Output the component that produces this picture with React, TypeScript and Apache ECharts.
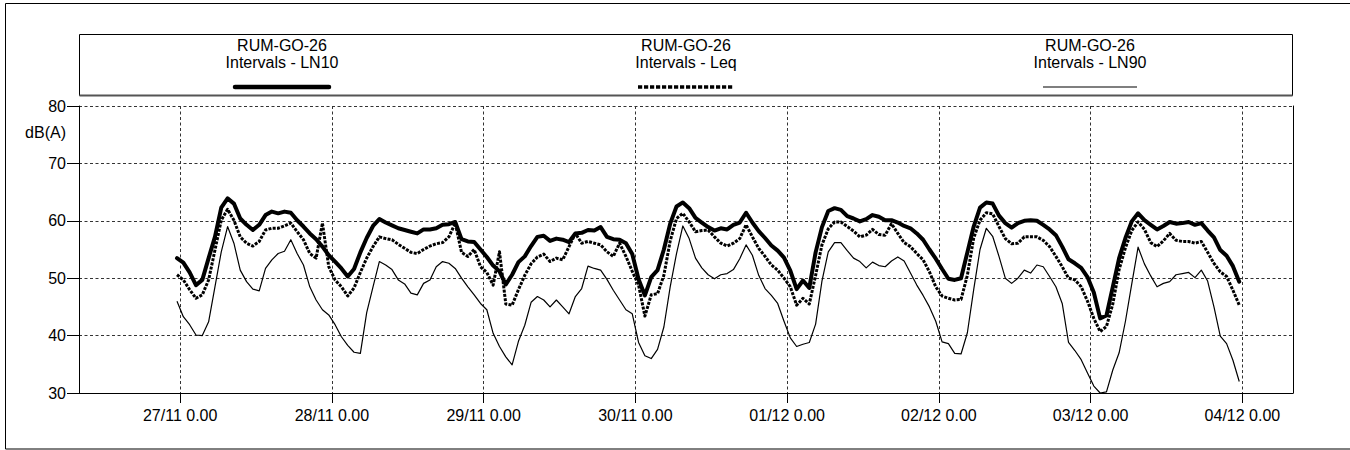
import React, { useEffect, useRef } from "react";
import * as echarts from "echarts";

// Station and series names
const SITE = "RUM-GO-26";
const SERIES_NAMES = ["Intervals - LN10", "Intervals - Leq", "Intervals - LN90"];

// Day tick labels (midnight of each day)
const DAY_LABELS = [
  "27/11 0.00",
  "28/11 0.00",
  "29/11 0.00",
  "30/11 0.00",
  "01/12 0.00",
  "02/12 0.00",
  "03/12 0.00",
  "04/12 0.00",
];

// Time axis in hours relative to 27/11 0.00
const AXIS_START_HOUR = -16;
const AXIS_END_HOUR = 176;
const AXIS_STEP_HOURS = 8;

// Hourly readings, first one at 26/11 23.30
const FIRST_READING_HOUR = -0.5;
const READING_STEP_HOURS = 1;

// Level axis, dB(A)
const Y_MIN = 30;
const Y_MAX = 80;
const Y_STEP = 10;

const LN10 = [
  53.5, 52.7, 51.0, 48.8, 49.7, 53.5, 57.2, 62.3, 63.9, 63.0,
  60.4, 59.3, 58.4, 59.3, 61.0, 61.6, 61.3, 61.6, 61.4, 60.1,
  59.0, 57.8, 56.8, 55.5, 54.0, 52.9, 51.7, 50.3, 51.6, 54.5,
  57.0, 59.1, 60.3, 59.7, 59.2, 58.7, 58.4, 58.1, 57.8, 58.5,
  58.5, 58.7, 59.3, 59.4, 59.8, 56.8, 56.4, 56.3, 55.0, 53.7,
  52.2, 51.2, 48.9, 50.6, 52.8, 53.8, 55.6, 57.2, 57.4, 56.5,
  56.9, 56.7, 56.3, 57.8, 57.9, 58.4, 58.3, 58.9, 57.2, 56.8,
  56.7, 56.1, 54.2, 49.8, 47.0, 50.2, 51.4, 55.0, 59.5, 62.5,
  63.2, 62.2, 60.5, 59.7, 58.9, 58.3, 58.7, 58.5, 59.3, 59.7,
  61.4, 59.7, 58.2, 57.0, 55.7, 54.8, 53.6, 51.3, 48.1, 49.6,
  48.3, 54.5, 58.9, 61.7, 62.2, 61.9, 60.8, 60.4, 59.9, 60.3,
  61.0, 60.7, 60.1, 60.1, 59.7, 59.1, 58.7, 57.8, 56.7, 55.0,
  53.4, 51.6, 49.9, 49.7, 50.0, 54.5, 59.0, 62.3, 63.2, 63.0,
  60.9, 59.6, 58.8, 59.6, 60.0, 60.1, 60.0, 59.3, 58.5, 57.5,
  55.5, 53.3, 52.6, 51.8, 50.2, 47.5, 43.0, 43.5, 48.5, 53.5,
  57.0, 59.9, 61.3, 60.1, 59.3, 58.5, 59.1, 59.8, 59.5, 59.6,
  59.8, 59.3, 59.6, 58.3, 57.1, 54.9, 53.9, 52.1, 49.4,
];

const LEQ = [
  50.6, 49.7, 48.0, 46.5, 47.1, 49.7, 54.9, 60.1, 62.0, 60.1,
  57.2, 56.1, 55.6, 56.4, 58.4, 58.7, 58.7, 59.1, 59.6, 58.1,
  56.7, 54.3, 53.5, 59.6, 52.0, 49.7, 48.5, 46.9, 48.3, 51.0,
  53.5, 55.5, 57.2, 56.9, 56.7, 55.9, 55.2, 54.5, 54.3, 55.0,
  55.6, 56.0, 56.2, 57.2, 59.6, 54.5, 53.8, 55.0, 52.0, 51.0,
  48.8, 54.6, 45.5, 45.3, 48.0, 50.5, 52.5, 53.7, 54.2, 52.9,
  53.5, 53.2, 55.5, 57.8, 56.1, 56.4, 56.1, 55.8, 54.6, 53.8,
  56.1, 53.8, 51.2, 48.8, 43.4, 47.1, 47.3, 50.5, 56.5, 60.4,
  61.3, 59.8, 58.1, 58.3, 58.4, 57.2, 56.1, 55.6, 56.1, 56.9,
  59.3, 57.2, 55.2, 53.8, 52.3, 51.4, 50.0, 48.5, 45.3, 46.5,
  45.5, 50.5, 55.8, 58.6, 59.8, 59.8, 59.0, 58.2, 57.2, 57.5,
  58.5, 57.6, 57.5, 59.5, 57.8, 56.2, 55.5, 54.3, 53.2, 51.1,
  48.5, 46.9, 46.5, 46.2, 46.3, 50.5, 57.0, 60.1, 61.4, 61.2,
  59.0, 56.9, 56.0, 56.1, 57.2, 57.2, 57.2, 56.6, 55.5, 53.8,
  52.0, 50.0, 49.7, 48.5, 46.0, 43.0, 40.7, 41.6, 45.5, 51.5,
  55.3, 58.3, 59.8, 58.5, 56.2, 55.5, 56.5, 57.8, 56.6, 56.4,
  56.4, 56.1, 56.4, 54.5, 52.6, 51.1, 50.3, 47.9, 45.3,
];

const LN90 = [
  46.0, 43.3, 41.9, 40.1, 40.0, 42.4, 48.5, 54.6, 59.0, 56.1,
  51.4, 49.4, 48.1, 47.8, 51.7, 53.2, 54.3, 54.7, 56.7, 54.3,
  52.3, 48.5, 46.2, 44.5, 43.6, 41.9, 39.8, 38.3, 37.1, 36.9,
  44.0, 48.5, 52.9, 52.3, 51.5, 49.7, 49.0, 47.4, 47.1, 49.1,
  49.7, 52.0, 52.9, 52.6, 51.7, 50.0, 48.5, 47.1, 45.6, 44.5,
  40.4, 38.1, 36.3, 34.9, 39.0, 41.8, 45.8, 46.8, 46.2, 45.0,
  46.2, 45.0, 43.8, 46.8, 48.2, 52.1, 51.7, 51.4, 49.8, 47.9,
  46.2, 44.5, 43.8, 38.8, 36.5, 36.0, 37.6, 41.5, 48.5, 54.3,
  59.1, 56.9, 53.5, 51.8, 50.6, 49.9, 50.6, 50.8, 51.5, 53.4,
  55.8, 54.0, 50.5, 48.2, 47.0, 45.6, 42.5, 39.6, 38.1, 38.5,
  38.8, 42.0, 49.5, 54.6, 56.2, 56.2, 54.8, 53.5, 52.9, 51.8,
  52.8, 52.2, 52.0, 53.0, 53.7, 53.0, 50.9, 48.8, 47.0, 45.0,
  42.5, 38.9, 38.6, 36.9, 36.8, 40.5, 48.0, 55.0, 58.7, 57.3,
  53.8, 50.0, 49.1, 50.0, 51.4, 50.9, 52.3, 52.0, 50.3, 48.5,
  45.6, 38.8, 37.4, 35.8, 33.5, 31.2, 30.0, 30.2, 34.0, 37.0,
  42.5, 49.0, 55.4, 52.5, 50.4, 48.5, 49.1, 49.4, 50.6, 50.8,
  51.0, 50.1, 51.4, 49.5, 45.0, 39.9, 38.6, 35.7, 32.0,
];

const FONT = '"Liberation Sans", Arial, Helvetica, sans-serif';
const INK = "#000";

const toPoints = (values: number[]) =>
  values.map((v, i) => [FIRST_READING_HOUR + i * READING_STEP_HOURS, v]);

// Category positions every 8 hours; only midnights carry a label
const hourMarks: number[] = [];
for (let h = AXIS_START_HOUR; h <= AXIS_END_HOUR; h += AXIS_STEP_HOURS) hourMarks.push(h);
const categories = hourMarks.map((h) =>
  h >= 0 && h % 24 === 0 && h / 24 < DAY_LABELS.length ? DAY_LABELS[h / 24] : ""
);
const isDayMark = (_index: number, value: string) => value !== "";

function legendItem(cx: number, name: string, sample: any) {
  const text = (t: string, y: number) => ({
    type: "text",
    silent: true,
    style: {
      text: t,
      x: cx,
      y,
      fill: INK,
      fontFamily: FONT,
      fontSize: 16,
      align: "center",
      textAlign: "center",
      verticalAlign: "middle",
      textVerticalAlign: "middle",
    },
  });
  return [text(SITE, 45), text(name, 62.5), sample];
}

export default function App() {
  const ref = useRef<HTMLDivElement>(null);

  useEffect(() => {
    if (!ref.current) return;
    const chart = echarts.init(ref.current, undefined, { renderer: "svg" });

    const lineY = 87;
    const graphic: any[] = [
      // outer frame
      {
        type: "rect",
        silent: true,
        shape: { x: 5.5, y: 3.5, width: 1350, height: 445.5 },
        style: { fill: "none", stroke: INK, lineWidth: 1 },
      },
      // legend box
      {
        type: "rect",
        silent: true,
        shape: { x: 79.5, y: 34.5, width: 1213, height: 61 },
        style: { fill: "none", stroke: INK, lineWidth: 1 },
      },
      {
        type: "line",
        silent: true,
        shape: { x1: 79.5, y1: 95.5, x2: 1292.5, y2: 95.5 },
        style: { stroke: "#555", lineWidth: 2 },
      },
      ...legendItem(282, SERIES_NAMES[0], {
        type: "line",
        silent: true,
        shape: { x1: 235, y1: lineY, x2: 329, y2: lineY },
        style: { stroke: INK, lineWidth: 4.5, lineCap: "round" },
      }),
      ...legendItem(686, SERIES_NAMES[1], {
        type: "line",
        silent: true,
        shape: { x1: 638, y1: lineY, x2: 734, y2: lineY },
        style: { stroke: INK, lineWidth: 3.5, lineDash: [4.2, 1.8] },
      }),
      ...legendItem(1090, SERIES_NAMES[2], {
        type: "line",
        silent: true,
        shape: { x1: 1043, y1: lineY, x2: 1137, y2: lineY },
        style: { stroke: INK, lineWidth: 1.2 },
      }),
      // unit label
      {
        type: "text",
        silent: true,
        style: {
          text: "dB(A)",
          x: 66,
          y: 132,
          fill: INK,
          fontFamily: FONT,
          fontSize: 16,
          align: "right",
          textAlign: "right",
          verticalAlign: "middle",
          textVerticalAlign: "middle",
        },
      },
    ];

    const splitStyle = { color: "#333", width: 1, type: [3, 2.5] as any };

    chart.setOption({
      animation: false,
      backgroundColor: "#fff",
      grid: { left: 79, right: 57, top: 106, bottom: 57, outerBoundsMode: "none" } as any,
      xAxis: [
        {
          type: "value",
          min: AXIS_START_HOUR,
          max: AXIS_END_HOUR,
          show: false,
          axisLine: { onZero: false },
        },
        {
          type: "category",
          position: "bottom",
          boundaryGap: false,
          data: categories,
          axisLine: { show: true, onZero: false, lineStyle: { color: INK, width: 1 } },
          axisTick: {
            show: true,
            interval: isDayMark,
            length: 10,
            lineStyle: { color: INK, width: 1 },
          },
          axisLabel: {
            show: true,
            interval: isDayMark,
            margin: 14,
            color: INK,
            fontFamily: FONT,
            fontSize: 16,
          },
          splitLine: { show: true, interval: isDayMark, lineStyle: splitStyle },
        },
      ],
      yAxis: [
        {
          type: "value",
          min: Y_MIN,
          max: Y_MAX,
          interval: Y_STEP,
          axisLine: { show: true, onZero: false, lineStyle: { color: INK, width: 1 } },
          axisTick: { show: true, length: 12, lineStyle: { color: INK, width: 1 } },
          axisLabel: { margin: 13, color: INK, fontFamily: FONT, fontSize: 16 },
          splitLine: { show: true, lineStyle: splitStyle },
        },
        {
          type: "value",
          position: "right",
          min: Y_MIN,
          max: Y_MAX,
          interval: Y_STEP,
          axisLine: { show: true, onZero: false, lineStyle: { color: INK, width: 1 } },
          axisTick: { show: false },
          axisLabel: { show: false },
          splitLine: { show: false },
        },
      ],
      series: [
        {
          name: SERIES_NAMES[0],
          type: "line",
          xAxisIndex: 0,
          yAxisIndex: 0,
          data: toPoints(LN10),
          showSymbol: false,
          symbol: "none",
          silent: true,
          lineStyle: { color: INK, width: 4, join: "round", cap: "round" },
        },
        {
          name: SERIES_NAMES[1],
          type: "line",
          xAxisIndex: 0,
          yAxisIndex: 0,
          data: toPoints(LEQ),
          showSymbol: false,
          symbol: "none",
          silent: true,
          lineStyle: { color: INK, width: 3, type: [3, 1.3], join: "round" },
        },
        {
          name: SERIES_NAMES[2],
          type: "line",
          xAxisIndex: 0,
          yAxisIndex: 0,
          data: toPoints(LN90),
          showSymbol: false,
          symbol: "none",
          silent: true,
          lineStyle: { color: INK, width: 1.2, join: "round" },
        },
      ],
      graphic,
    });

    return () => chart.dispose();
  }, []);

  return (
    <div
      ref={ref}
      style={{
        position: "fixed",
        left: 0,
        top: 0,
        width: 1350,
        height: 450,
        background: "#fff",
      }}
    />
  );
}
